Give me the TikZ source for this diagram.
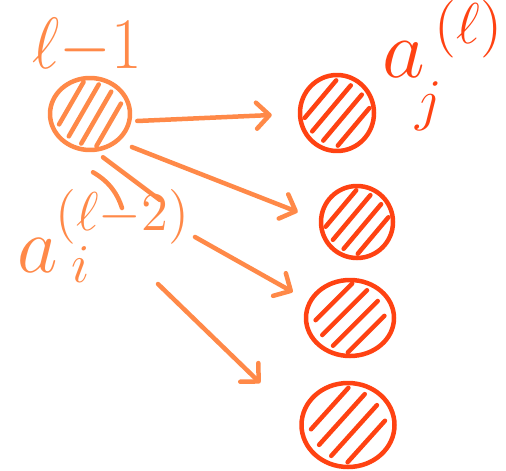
\documentclass[tikz,border=0pt]{standalone}
\usetikzlibrary{arrows.meta,shapes.geometric,calc}
\definecolor{sorange}{RGB}{255,137,72}
\definecolor{sred}{RGB}{255,66,18}
\newcommand\myhatch[4]{% node, colour, radius, angle
  \begin{scope}[shift={(#1.center)}]
    \foreach \d in {-0.6,-0.2,0.2,0.6}{
      \pgfmathsetmacro\hl{0.85*sqrt(1-(\d)*(\d))}
      \draw[stroke,draw=#2]
        ({(sin(#4)*(\d)-cos(#4)*\hl)*#3},{(cos(#4)*(\d)+sin(#4)*\hl)*#3}) --
        ({(sin(#4)*(\d)+cos(#4)*\hl)*#3},{(cos(#4)*(\d)-sin(#4)*\hl)*#3});
    }
  \end{scope}}
\begin{document}
\begin{tikzpicture}[x=1pt,y=-1pt,
  stroke/.style={line width=4.5pt,line cap=round,line join=round},
  lnode/.style={ellipse,draw=sorange,stroke,inner sep=0pt},
  rnode/.style={ellipse,draw=sred,stroke,inner sep=0pt},
  conn/.style={stroke,draw=sorange},
  tip/.style={-{Straight Barb[length=13pt,width=26pt,round]}},
  lbl/.style={inner sep=0pt,font=\fontsize{20}{24}\selectfont},
]
\useasboundingbox[fill=white] (0,0) rectangle (506,471);

% nodes
\node[lnode,minimum width=80pt,minimum height=72pt] (L) at (90,114) {};
\node[rnode,minimum width=74pt,minimum height=76pt] (R1) at (337,113) {};
\node[rnode,minimum width=72pt,minimum height=72pt] (R2) at (357,222) {};
\node[rnode,minimum width=88pt,minimum height=76pt] (R3) at (350,318) {};
\node[rnode,minimum width=93pt,minimum height=84pt] (R4) at (348,425) {};

% hatching
\myhatch{L}{sorange}{36}{60}
\myhatch{R1}{sred}{36}{50}
\myhatch{R2}{sred}{35}{50}
\myhatch{R3}{sred}{38}{45}
\myhatch{R4}{sred}{41}{48}

% labels
\node[lbl,text=sorange,anchor=base] (top) at (87,68) {\scalebox{3.2}[3.5]{$\ell{-}1$}};
\node[lbl,text=sred,anchor=base west] (aj) at (382,77)
  {\scalebox{4}{\rlap{\hspace{8.3pt}\raisebox{-10.7pt}{$\scriptstyle j$}}$a$\hspace{2.5pt}\raisebox{8.5pt}{$\scriptstyle(\ell)$}}};
\node[lbl,text=sorange,anchor=base west] (ai) at (17,272)
  {\scalebox{3.8}{\rlap{\hspace{14.3pt}\raisebox{-2.8pt}{$\scriptstyle i$}}$a$\hspace{-0.6pt}\raisebox{11pt}{$\scriptstyle(\ell{-}2)$}}};

% gap points where lines pass behind the label
\coordinate (g3a) at (160,200);
\coordinate (g3b) at (195,237);
\coordinate (g4a) at (122,208);
\coordinate (g4b) at (158,284);

% connectors
\draw[conn,tip] ([shift={(5,7)}]L.east) -- ([shift={(-26,2)}]R1.west);
\draw[conn,tip] ([shift={(12,6)}]L.south east) -- ([shift={(-21,-10)}]R2.west);
\draw[conn] ([shift={(13,5)}]L.south) -- (g3a);
\draw[conn,tip] (g3b) -- ([shift={(-11,-26)}]R3.west);
\draw[conn] ([shift={(3,20)}]L.south) .. controls (110,182) and (118,195) .. (g4a);
\draw[conn,tip] (g4b) -- ([shift={(-39,-42)}]R4.west);
\end{tikzpicture}
\end{document}
